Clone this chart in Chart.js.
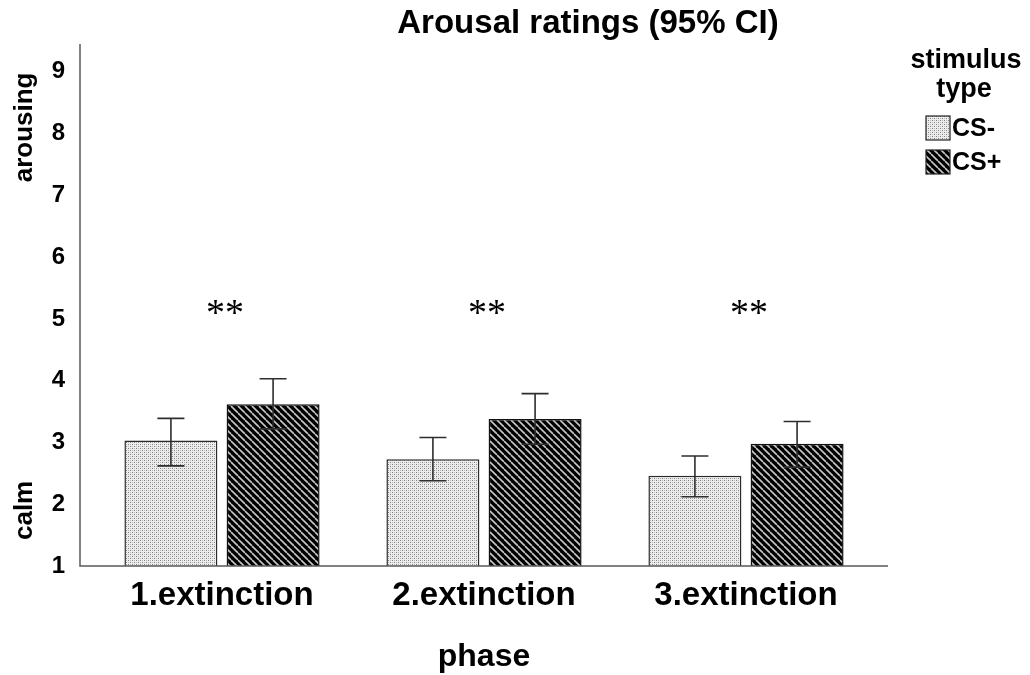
<!DOCTYPE html>
<html>
<head>
<meta charset="utf-8">
<script src="https://cdn.jsdelivr.net/npm/chart.js@4.4.1/dist/chart.umd.min.js"></script>
<style>
  body { margin: 0; background: #fff; }
  canvas { display: block; }
</style>
</head>
<body>
<canvas id="chart" width="1030" height="675"></canvas>
<script>
// values
const phases = ["1.extinction", "2.extinction", "3.extinction"];
const seriesNames = ["CS-", "CS+"];
const csMinus = [3.03, 2.73, 2.46];
const csPlus = [3.62, 3.38, 2.98];
const csMinusLow = [2.62, 2.38, 2.12];
const csMinusHigh = [3.39, 3.08, 2.78];
const csPlusLow = [3.22, 2.97, 2.60];
const csPlusHigh = [4.03, 3.79, 3.34];
const sigMarks = ["**", "**", "**"];
const sigLevel = 5.2;
const yTicks = [1, 2, 3, 4, 5, 6, 7, 8, 9];

const FONT = "'Liberation Sans', Arial, sans-serif";

function dotPattern() {
  const c = document.createElement("canvas");
  c.width = 4; c.height = 4;
  const g = c.getContext("2d");
  g.fillStyle = "#ededed";
  g.fillRect(0, 0, 4, 4);
  g.fillStyle = "#808080";
  g.fillRect(0, 0, 1, 1);
  g.fillRect(2, 2, 1, 1);
  g.fillStyle = "#bbbbbb";
  g.fillRect(2, 0, 1, 1);
  g.fillRect(0, 2, 1, 1);
  return g.createPattern(c, "repeat");
}

function stripePattern() {
  const s = 7;
  const c = document.createElement("canvas");
  c.width = s; c.height = s;
  const g = c.getContext("2d");
  g.fillStyle = "#000";
  g.fillRect(0, 0, s, s);
  g.strokeStyle = "#c8c8c8";
  g.lineWidth = 1.6;
  for (let k = -1; k <= 1; k++) {
    g.beginPath();
    g.moveTo(k * s, 0);
    g.lineTo(k * s + s, s);
    g.stroke();
  }
  return g.createPattern(c, "repeat");
}

const fills = [dotPattern(), stripePattern()];
const lows = [csMinusLow, csPlusLow];
const highs = [csMinusHigh, csPlusHigh];

const extras = {
  id: "extras",
  afterDatasetsDraw(chart) {
    const ctx = chart.ctx;
    const ys = chart.scales.y;
    const area = chart.chartArea;
    ctx.save();

    // axis lines
    ctx.strokeStyle = "#5a5a5a";
    ctx.lineWidth = 1.5;
    ctx.beginPath();
    ctx.moveTo(80, area.top);
    ctx.lineTo(80, area.bottom);
    ctx.lineTo(888, area.bottom);
    ctx.stroke();

    // error bars
    ctx.strokeStyle = "#2e2e2e";
    ctx.lineWidth = 1.6;
    chart.data.datasets.forEach((ds, i) => {
      chart.getDatasetMeta(i).data.forEach((bar, j) => {
        const yl = ys.getPixelForValue(lows[i][j]);
        const yh = ys.getPixelForValue(highs[i][j]);
        ctx.beginPath();
        ctx.moveTo(bar.x, yl);
        ctx.lineTo(bar.x, yh);
        ctx.moveTo(bar.x - 13.5, yl);
        ctx.lineTo(bar.x + 13.5, yl);
        ctx.moveTo(bar.x - 13.5, yh);
        ctx.lineTo(bar.x + 13.5, yh);
        ctx.stroke();
      });
    });

    // significance marks
    ctx.fillStyle = "#000";
    ctx.font = "38px 'Liberation Serif', 'Times New Roman', serif";
    ctx.textAlign = "center";
    ctx.textBaseline = "alphabetic";
    const m0 = chart.getDatasetMeta(0).data;
    const m1 = chart.getDatasetMeta(1).data;
    sigMarks.forEach((s, j) => {
      const x = (m0[j].x + m1[j].x) / 2;
      ctx.fillText(s, x + 3, ys.getPixelForValue(sigLevel) + 18);
    });

    // title
    ctx.font = "bold 33px " + FONT;
    ctx.textBaseline = "middle";
    ctx.fillText("Arousal ratings (95% CI)", 588, 24);

    // x axis title
    ctx.font = "bold 32px " + FONT;
    ctx.fillText("phase", 484, 657);

    // y axis titles
    ctx.font = "bold 26px " + FONT;
    ctx.save();
    ctx.translate(25, ys.getPixelForValue(8.1));
    ctx.rotate(-Math.PI / 2);
    ctx.fillText("arousing", 0, 0);
    ctx.restore();
    ctx.save();
    ctx.translate(25, ys.getPixelForValue(1.9));
    ctx.rotate(-Math.PI / 2);
    ctx.fillText("calm", 0, 0);
    ctx.restore();

    // legend
    ctx.font = "bold 27px " + FONT;
    ctx.fillText("stimulus", 966, 61);
    ctx.fillText("type", 964, 90);
    ctx.font = "bold 25px " + FONT;
    ctx.textAlign = "left";
    seriesNames.forEach((name, i) => {
      const top = 116 + i * 34;
      ctx.fillStyle = fills[i];
      ctx.fillRect(926, top, 24, 24);
      ctx.strokeStyle = "#222";
      ctx.lineWidth = 1.2;
      ctx.strokeRect(926, top, 24, 24);
      ctx.fillStyle = "#000";
      ctx.fillText(name, 952, top + 13);
    });
    ctx.restore();
  }
};

new Chart(document.getElementById("chart"), {
  type: "bar",
  data: {
    labels: phases,
    datasets: [
      {
        label: seriesNames[0],
        data: csMinus,
        backgroundColor: fills[0],
        borderColor: "#2a2a2a",
        borderWidth: 1.5,
      },
      {
        label: seriesNames[1],
        data: csPlus,
        backgroundColor: fills[1],
        borderColor: "#111",
        borderWidth: 1.5,
      },
    ],
  },
  options: {
    responsive: false,
    animation: false,
    categoryPercentage: 0.78,
    barPercentage: 0.91,
    layout: { padding: { top: 44, right: 153, left: 0, bottom: 0 } },
    plugins: {
      legend: { display: false },
      title: { display: false },
      tooltip: { enabled: false },
    },
    scales: {
      x: {
        grid: { display: false, drawTicks: false },
        border: { display: false },
        ticks: {
          color: "#000",
          padding: 10,
          font: { family: FONT, size: 33, weight: "bold" },
        },
        afterFit(scale) { scale.height = 109; },
      },
      y: {
        min: 1,
        max: 9.45,
        grid: { display: false, drawTicks: false },
        border: { display: false },
        afterBuildTicks(scale) { scale.ticks = yTicks.map(v => ({ value: v })); },
        ticks: {
          color: "#000",
          padding: 26,
          font: { family: FONT, size: 24, weight: "bold" },
        },
        afterFit(scale) { scale.width = 91; },
      },
    },
  },
  plugins: [extras],
});
</script>
</body>
</html>
